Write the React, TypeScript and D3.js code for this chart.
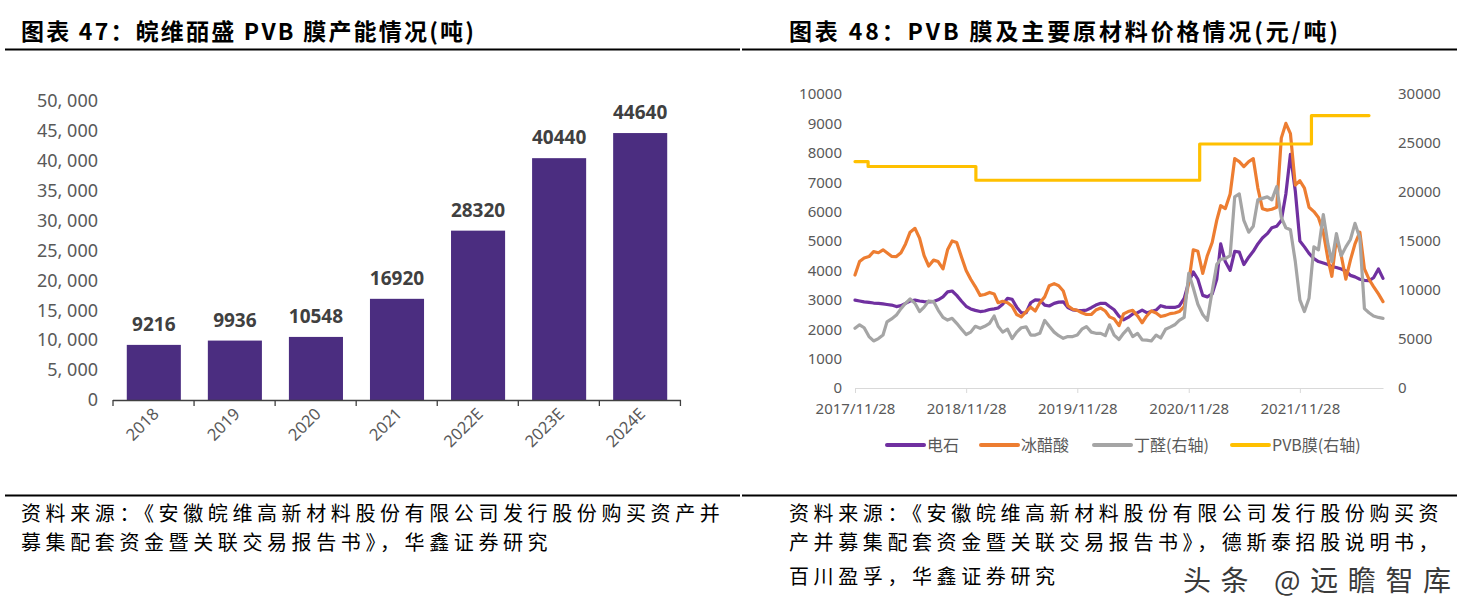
import { useEffect, useRef } from "react";
import * as d3 from "d3";

// left chart: capacity (tonnes)
const years = ["2018", "2019", "2020", "2021", "2022E", "2023E", "2024E"];
const capacity = [9216, 9936, 10548, 16920, 28320, 40440, 44640];
const capacityTicks = [0, 5000, 10000, 15000, 20000, 25000, 30000, 35000, 40000, 45000, 50000];

// right chart: prices (yuan / tonne), semi-monthly readings
const dates = [
  "2017-11-28", "2017-12-13", "2017-12-28",
  "2018-01-13", "2018-01-28", "2018-02-13", "2018-02-28", "2018-03-13", "2018-03-28", "2018-04-13", "2018-04-28",
  "2018-05-13", "2018-05-28", "2018-06-13", "2018-06-28", "2018-07-13", "2018-07-28", "2018-08-13", "2018-08-28",
  "2018-09-13", "2018-09-28", "2018-10-13", "2018-10-28", "2018-11-13", "2018-11-28", "2018-12-13", "2018-12-28",
  "2019-01-13", "2019-01-28", "2019-02-13", "2019-02-28", "2019-03-13", "2019-03-28", "2019-04-13", "2019-04-28",
  "2019-05-13", "2019-05-28", "2019-06-13", "2019-06-28", "2019-07-13", "2019-07-28", "2019-08-13", "2019-08-28",
  "2019-09-13", "2019-09-28", "2019-10-13", "2019-10-28", "2019-11-13", "2019-11-28", "2019-12-13", "2019-12-28",
  "2020-01-13", "2020-01-28", "2020-02-13", "2020-02-28", "2020-03-13", "2020-03-28", "2020-04-13", "2020-04-28",
  "2020-05-13", "2020-05-28", "2020-06-13", "2020-06-28", "2020-07-13", "2020-07-28", "2020-08-13", "2020-08-28",
  "2020-09-13", "2020-09-28", "2020-10-13", "2020-10-28", "2020-11-13", "2020-11-28", "2020-12-13", "2020-12-28",
  "2021-01-13", "2021-01-28", "2021-02-13", "2021-02-28", "2021-03-13", "2021-03-28", "2021-04-13", "2021-04-28",
  "2021-05-13", "2021-05-28", "2021-06-13", "2021-06-28", "2021-07-13", "2021-07-28", "2021-08-13", "2021-08-28",
  "2021-09-13", "2021-09-28", "2021-10-13", "2021-10-28", "2021-11-13", "2021-11-28", "2021-12-13", "2021-12-28",
  "2022-01-13", "2022-01-28", "2022-02-13", "2022-02-28", "2022-03-13", "2022-03-28", "2022-04-13", "2022-04-28",
  "2022-05-13", "2022-05-28", "2022-06-13", "2022-06-28", "2022-07-13", "2022-07-28", "2022-08-13", "2022-08-28",
];

// 电石 (left axis)
const carbide = [
  2990, 2960, 2930, 2910, 2890, 2880, 2860, 2840, 2820, 2770,
  2800, 2880, 2960, 2990, 2960, 2940, 2930, 2940, 3000, 3100,
  3270, 3300, 3150, 2950, 2780, 2690, 2640, 2600, 2620, 2670,
  2690, 2720, 2850, 3050, 3020, 2750, 2560, 2560, 2900, 3000,
  2990, 2820, 2790, 2880, 2920, 2930, 2740, 2660, 2640, 2630,
  2650, 2730, 2820, 2880, 2880, 2770, 2660, 2440, 2320, 2400,
  2520, 2560, 2650, 2560, 2600, 2650, 2800, 2750, 2740, 2740,
  2790, 3050, 3600, 3950, 3700, 3150, 3100, 3200, 3700, 4900,
  4300, 4000, 4650, 4620, 4200, 4450, 4650, 4900, 5100, 5250,
  5450, 5500, 5700, 6600, 7950, 6700, 5000, 4800, 4580, 4400,
  4300, 4250, 4200, 4130, 4100, 4050, 3980, 3830, 3780, 3700,
  3660, 3650, 3750, 4050, 3730,
];

// 冰醋酸 (left axis)
const aceticAcid = [
  3840, 4300, 4420, 4470, 4640, 4600, 4700, 4600, 4480, 4470,
  4600, 4900, 5300, 5430, 5100, 4500, 4150, 4350, 4300, 4050,
  4700, 5000, 4950, 4450, 4000, 3700, 3450, 3150, 3180, 3250,
  3200, 2900, 2950, 2900, 2780, 2500, 2420, 2600, 2750, 2620,
  2900, 3100, 3480, 3550, 3480, 3300, 2800, 2680, 2640, 2560,
  2500, 2500, 2650, 2720, 2620, 2420, 2350, 2120, 2520, 2600,
  2640, 2450, 2220, 2450, 2620, 2550, 2430, 2470, 2530, 2550,
  2600, 2770, 3600, 4700, 4650, 3900, 4500, 4950, 5700, 6200,
  6100, 6600, 7800, 7700, 7530, 7700, 7800, 6800, 6100, 6050,
  6080, 6150, 8500, 9000, 8650, 6900, 7050, 6800, 6150, 6000,
  5800, 5300, 4400, 3800, 5100, 4500, 3700, 4350, 4900, 5300,
  4050, 3700, 3450, 3200, 2940,
];

// 丁醛 (right axis)
const butyraldehyde = [
  6090, 6450, 6150, 5250, 4800, 5040, 5400, 6750, 7050, 7440,
  8100, 8640, 9090, 8640, 7800, 8250, 8880, 8820, 7950, 7200,
  6930, 7110, 6600, 6000, 5460, 5700, 6300, 6090, 6300, 6600,
  7350, 6300, 5700, 6000, 5040, 5700, 6150, 6240, 5400, 5400,
  5580, 6900, 6300, 5700, 5340, 5070, 5250, 5250, 5400, 6000,
  6270, 5700, 5580, 5580, 5340, 6450, 5400, 4950, 5580, 6090,
  5250, 5580, 4920, 4890, 4800, 5400, 5100, 6000, 6210, 6450,
  6900, 7200, 11700, 10200, 8550, 7500, 6900, 9900, 12600, 13140,
  13200, 13500, 19500, 19800, 17100, 15900, 16500, 19200, 19350, 19500,
  19200, 20550, 17400, 16350, 16140, 12900, 9000, 7800, 9150, 14400,
  14100, 17700, 14700, 12900, 15750, 13500, 14400, 15150, 16800, 15300,
  8100, 7680, 7350, 7200, 7110,
];

// PVB膜 (right axis), price steps
const pvbDates = ["2017-11-28", "2018-01-10", "2018-12-30", "2021-01-03", "2022-01-05", "2022-07-13"];
const pvbFilm = [23100, 22600, 21200, 24900, 27800, 27800];

const dateTicks = ["2017-11-28", "2018-11-28", "2019-11-28", "2020-11-28", "2021-11-28"];
const leftTicks = [0, 1000, 2000, 3000, 4000, 5000, 6000, 7000, 8000, 9000, 10000];
const rightTicks = [0, 5000, 10000, 15000, 20000, 25000, 30000];

const seriesNames = ["电石", "冰醋酸", "丁醛(右轴)", "PVB膜(右轴)"];
const seriesColors = ["#7030A0", "#ED7D31", "#A5A5A5", "#FFC000"];

const App = () => {
  const ref = useRef<SVGSVGElement | null>(null);

  useEffect(() => {
    if (!ref.current) return;
    const svg = d3.select(ref.current);
    svg.selectAll("*").remove();

    const cjk = '"Noto Sans CJK SC", "Noto Sans", sans-serif';
    const num = '"Noto Sans", "DejaVu Sans", sans-serif';
    const grey = "#595959";

    // ---- titles and rules
    svg.append("text")
      .attr("x", 21).attr("y", 40)
      .attr("font-family", cjk).attr("font-weight", 700).attr("font-size", 23)
      .attr("textLength", 453).attr("lengthAdjust", "spacing")
      .text("图表 47：皖维皕盛 PVB 膜产能情况(吨)");
    svg.append("text")
      .attr("x", 789).attr("y", 40)
      .attr("font-family", cjk).attr("font-weight", 700).attr("font-size", 23)
      .attr("textLength", 549).attr("lengthAdjust", "spacing")
      .text("图表 48：PVB 膜及主要原材料价格情况(元/吨)");

    [[5, 740], [742, 1457]].forEach(([a, b]) => {
      svg.append("line").attr("x1", a).attr("x2", b).attr("y1", 49.5).attr("y2", 49.5)
        .attr("stroke", "#000").attr("stroke-width", 2);
      svg.append("line").attr("x1", a).attr("x2", b).attr("y1", 495.5).attr("y2", 495.5)
        .attr("stroke", "#000").attr("stroke-width", 2);
    });

    // ---- left: bar chart
    const xB = d3.scaleBand<string>().domain(years).range([113, 681])
      .paddingInner(0.333).paddingOuter(0.17);
    const yB = d3.scaleLinear().domain([0, 50000]).range([400, 101]);

    const gB = svg.append("g");
    gB.append("g")
      .attr("transform", "translate(113,0)")
      .call(d3.axisLeft(yB).tickValues(capacityTicks).tickSize(0).tickPadding(15)
        .tickFormat((d) => d3.format(",")(d as number).replace(",", ", ")))
      .call((g) => g.select(".domain").remove())
      .call((g) => g.selectAll("text").attr("fill", grey).attr("font-size", 18).attr("font-family", num));

    gB.selectAll("rect.bar").data(capacity).join("rect")
      .attr("class", "bar")
      .attr("x", (_, i) => xB(years[i])!)
      .attr("width", xB.bandwidth())
      .attr("y", (d) => yB(d))
      .attr("height", (d) => yB(0) - yB(d))
      .attr("fill", "#4B2D80");

    gB.selectAll("text.val").data(capacity).join("text")
      .attr("class", "val")
      .attr("x", (_, i) => xB(years[i])! + xB.bandwidth() / 2)
      .attr("y", (d) => yB(d) - 14)
      .attr("text-anchor", "middle")
      .attr("font-family", num).attr("font-weight", 700).attr("font-size", 19)
      .attr("fill", "#404040")
      .text((d) => d);

    // category axis: baseline with ticks at band edges
    const [b0, b1] = xB.range();
    gB.append("line").attr("x1", b0).attr("x2", b1).attr("y1", 400.5).attr("y2", 400.5)
      .attr("stroke", "#404040").attr("stroke-width", 1.3);
    gB.selectAll("line.tk").data(d3.range(years.length + 1)).join("line")
      .attr("class", "tk")
      .attr("x1", (k) => b0 + k * xB.step()).attr("x2", (k) => b0 + k * xB.step())
      .attr("y1", 400).attr("y2", 406)
      .attr("stroke", "#404040").attr("stroke-width", 1.3);
    gB.selectAll("text.cat").data(years).join("text")
      .attr("class", "cat")
      .attr("transform", (d) => `translate(${xB(d)! + xB.bandwidth() / 2 + 6},415) rotate(-45)`)
      .attr("text-anchor", "end")
      .attr("font-family", num).attr("font-size", 16.5).attr("fill", grey)
      .text((d) => d);

    // ---- right: line chart
    const parse = d3.timeParse("%Y-%m-%d");
    const dts = dates.map((d) => parse(d)!);
    const xT = d3.scaleTime().domain([dts[0], dts[dts.length - 1]]).range([855, 1383]);
    const yL = d3.scaleLinear().domain([0, 10000]).range([388, 94]);
    const yR = d3.scaleLinear().domain([0, 30000]).range([388, 94]);

    const gL = svg.append("g");
    gL.append("g")
      .attr("transform", "translate(855,0)")
      .call(d3.axisLeft(yL).tickValues(leftTicks).tickSize(0).tickPadding(13).tickFormat(d3.format("d")))
      .call((g) => g.select(".domain").remove())
      .call((g) => g.selectAll("text").attr("fill", grey).attr("font-size", 15).attr("font-family", num));
    gL.append("g")
      .attr("transform", "translate(1383,0)")
      .call(d3.axisRight(yR).tickValues(rightTicks).tickSize(0).tickPadding(15).tickFormat(d3.format("d")))
      .call((g) => g.select(".domain").remove())
      .call((g) => g.selectAll("text").attr("fill", grey).attr("font-size", 15).attr("font-family", num));
    gL.append("g")
      .attr("transform", "translate(0,388)")
      .call(d3.axisBottom(xT).tickValues(dateTicks.map((d) => parse(d)!))
        .tickSizeInner(5).tickSizeOuter(0).tickPadding(10)
        .tickFormat((d) => d3.timeFormat("%Y/%m/%d")(d as Date)))
      .call((g) => g.selectAll("path,line").attr("stroke", "#D9D9D9"))
      .call((g) => g.selectAll("text").attr("fill", grey).attr("font-size", 15).attr("font-family", num));

    const lineL = d3.line<number>().x((_, i) => xT(dts[i])).y((d) => yL(d));
    const lineR = d3.line<number>().x((_, i) => xT(dts[i])).y((d) => yR(d));
    const pvbX = pvbDates.map((d) => parse(d)!);
    const linePvb = d3.line<number>().x((_, i) => xT(pvbX[i])).y((d) => yR(d)).curve(d3.curveStepAfter);

    [
      { d: lineL(carbide), c: seriesColors[0] },
      { d: lineL(aceticAcid), c: seriesColors[1] },
      { d: lineR(butyraldehyde), c: seriesColors[2] },
      { d: linePvb(pvbFilm), c: seriesColors[3] },
    ].forEach((s) => {
      gL.append("path").attr("d", s.d).attr("fill", "none")
        .attr("stroke", s.c).attr("stroke-width", 3.2)
        .attr("stroke-linejoin", "round").attr("stroke-linecap", "round");
    });

    // legend
    const legendX = [887, 981, 1094, 1232];
    seriesNames.forEach((name, i) => {
      gL.append("line").attr("x1", legendX[i]).attr("x2", legendX[i] + 37)
        .attr("y1", 445).attr("y2", 445)
        .attr("stroke", seriesColors[i]).attr("stroke-width", 4).attr("stroke-linecap", "round");
      gL.append("text").attr("x", legendX[i] + 40).attr("y", 451)
        .attr("font-family", cjk).attr("font-size", 16).attr("fill", grey)
        .text(name);
    });

    // ---- source notes
    const note = (x: number, y: number, t: string) =>
      svg.append("text").attr("x", x).attr("y", y)
        .attr("font-family", cjk).attr("font-size", 20).attr("letter-spacing", 4.6)
        .attr("fill", "#000").text(t);
    note(21, 521, "资料来源：《安徽皖维高新材料股份有限公司发行股份购买资产并");
    note(21, 550, "募集配套资金暨关联交易报告书》，华鑫证券研究");
    note(789, 521, "资料来源：《安徽皖维高新材料股份有限公司发行股份购买资");
    note(789, 550, "产并募集配套资金暨关联交易报告书》，德斯泰招股说明书，");
    note(789, 584, "百川盈孚，华鑫证券研究");

    // watermark
    svg.append("text").attr("x", 1183).attr("y", 591)
      .attr("font-family", cjk).attr("font-size", 28)
      .attr("textLength", 268).attr("lengthAdjust", "spacing")
      .attr("fill", "#3a3a3a").attr("stroke", "#fff").attr("stroke-width", 5)
      .attr("paint-order", "stroke").attr("stroke-linejoin", "round")
      .text("头条 @远瞻智库");
  }, []);

  return (
    <svg
      ref={ref}
      width={1464}
      height={601}
      style={{ position: "absolute", left: 0, top: 0, background: "#fff" }}
    />
  );
};

export default App;
